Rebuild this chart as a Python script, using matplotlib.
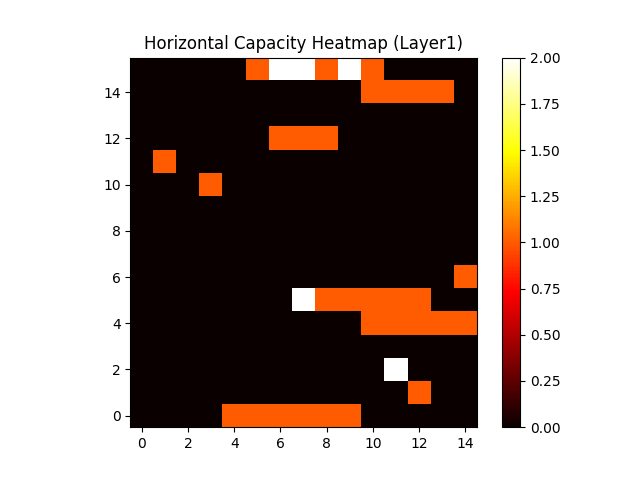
# capacity heatmap for layer 1

import numpy as np
import matplotlib
matplotlib.use("Agg")
import matplotlib.pyplot as plt

# rows go bottom to top (row 0 first), 15 columns
row_0 = [0, 0, 0, 0, 1, 1, 1, 1, 1, 1, 0, 0, 0, 0, 0]
row_1 = [0, 0, 0, 0, 0, 0, 0, 0, 0, 0, 0, 0, 1, 0, 0]
row_2 = [0, 0, 0, 0, 0, 0, 0, 0, 0, 0, 0, 2, 0, 0, 0]
row_3 = [0, 0, 0, 0, 0, 0, 0, 0, 0, 0, 0, 0, 0, 0, 0]
row_4 = [0, 0, 0, 0, 0, 0, 0, 0, 0, 0, 1, 1, 1, 1, 1]
row_5 = [0, 0, 0, 0, 0, 0, 0, 2, 1, 1, 1, 1, 1, 0, 0]
row_6 = [0, 0, 0, 0, 0, 0, 0, 0, 0, 0, 0, 0, 0, 0, 1]
row_7 = [0, 0, 0, 0, 0, 0, 0, 0, 0, 0, 0, 0, 0, 0, 0]
row_8 = [0, 0, 0, 0, 0, 0, 0, 0, 0, 0, 0, 0, 0, 0, 0]
row_9 = [0, 0, 0, 0, 0, 0, 0, 0, 0, 0, 0, 0, 0, 0, 0]
row_10 = [0, 0, 0, 1, 0, 0, 0, 0, 0, 0, 0, 0, 0, 0, 0]
row_11 = [0, 1, 0, 0, 0, 0, 0, 0, 0, 0, 0, 0, 0, 0, 0]
row_12 = [0, 0, 0, 0, 0, 0, 1, 1, 1, 0, 0, 0, 0, 0, 0]
row_13 = [0, 0, 0, 0, 0, 0, 0, 0, 0, 0, 0, 0, 0, 0, 0]
row_14 = [0, 0, 0, 0, 0, 0, 0, 0, 0, 0, 1, 1, 1, 1, 0]
row_15 = [0, 0, 0, 0, 0, 1, 2, 2, 1, 2, 1, 0, 0, 0, 0]

capacity = np.array([row_0, row_1, row_2, row_3, row_4, row_5, row_6, row_7,
                     row_8, row_9, row_10, row_11, row_12, row_13, row_14, row_15])

plt.imshow(capacity, cmap="hot", origin="lower", interpolation="nearest")
plt.colorbar()
plt.title("Horizontal Capacity Heatmap (Layer1)")

plt.savefig("out.png")
